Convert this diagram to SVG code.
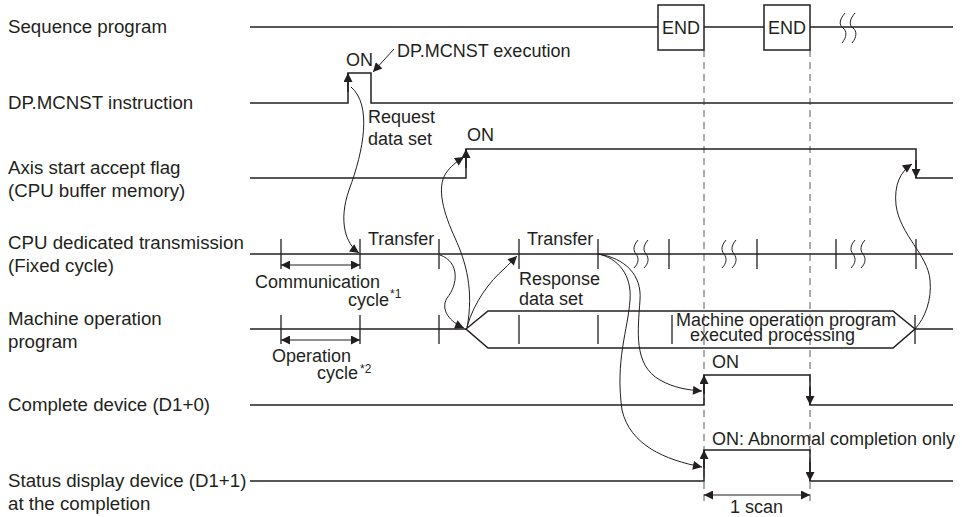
<svg xmlns="http://www.w3.org/2000/svg" width="962" height="517" viewBox="0 0 962 517">
<style>
text{font-family:"Liberation Sans",Arial,sans-serif;font-size:18px;fill:#231f20}
.lbl{font-size:18.7px}
.sup{font-size:12px}
.sig{fill:none;stroke:#231f20;stroke-width:1.5}
.tk{stroke:#231f20;stroke-width:1.3}
.brk{fill:none;stroke:#231f20;stroke-width:1}
.cv{fill:none;stroke:#231f20;stroke-width:1;marker-end:url(#ah)}
.ea{fill:none;stroke:#231f20;stroke-width:1.5;marker-end:url(#ah)}
.dim{fill:none;stroke:#231f20;stroke-width:1.2;marker-start:url(#ah);marker-end:url(#ah)}
.dash{stroke:#808080;stroke-width:1.3;stroke-dasharray:7 5}
.box{fill:#fff;stroke:#231f20;stroke-width:1.5}
</style>
<defs>
<marker id="ah" viewBox="0 0 10 10" refX="10" refY="5" markerWidth="11" markerHeight="9" markerUnits="userSpaceOnUse" orient="auto-start-reverse">
<path d="M0,0 L10,5 L0,10 z" fill="#231f20"/>
</marker>
</defs>
<rect width="962" height="517" fill="#fff"/>

<g id="dashes">
<line class="dash" x1="704" y1="50" x2="704" y2="505"/>
<line class="dash" x1="810" y1="50" x2="810" y2="505"/>
</g>

<g id="seq">
<text class="lbl" x="8" y="33">Sequence program</text>
<path class="sig" d="M250 27 H658 M704 27 H764 M810 27 H953"/>
<rect class="box" x="658" y="5" width="46" height="45"/>
<text x="681" y="34" text-anchor="middle">END</text>
<rect class="box" x="764" y="5" width="46" height="45"/>
<text x="787" y="34" text-anchor="middle">END</text>
<path class="brk" d="M845 13 C839 20 839 25 843 28 C847 31 847 37 842 43 M855 13 C849 20 849 25 853 28 C857 31 857 37 852 43"/>
</g>

<g id="dp">
<text class="lbl" x="8" y="109">DP.MCNST instruction</text>
<path class="sig" d="M250 103 H348 V73 H371 V103 H953"/>
<path class="ea" d="M348 92 V73"/>
<text x="346" y="66">ON</text>
<text x="397" y="57">DP.MCNST execution</text>
<text x="368" y="123">Request</text>
<text x="368" y="145">data set</text>
</g>

<g id="axis">
<text class="lbl" x="8" y="174">Axis start accept flag</text>
<text class="lbl" x="8" y="197">(CPU buffer memory)</text>
<path class="sig" d="M250 178 H466 V149 H916 V178 H953"/>
<path class="ea" d="M466 168 V149"/>
<path class="ea" d="M916 160 V178"/>
<text x="467" y="141">ON</text>
</g>

<g id="cpu">
<text class="lbl" x="8" y="249">CPU dedicated transmission</text>
<text class="lbl" x="8" y="272">(Fixed cycle)</text>
<path class="sig" d="M250 254 H953"/>
<path class="tk" d="M281 239 V269 M360 239 V269 M439 239 V269 M519 239 V269 M598 239 V269 M669 239 V269 M757 239 V269 M836 239 V269 M916 239 V269"/>
<path class="brk" d="M638 240 C633 246 633 250 636 254 C639 258 639 263 634 268 M648 240 C643 246 643 250 646 254 C649 258 649 263 644 268 M726 240 C721 246 721 250 724 254 C727 258 727 263 722 268 M736 240 C731 246 731 250 734 254 C737 258 737 263 732 268 M855 240 C850 246 850 250 853 254 C856 258 856 263 851 268 M865 240 C860 246 860 250 863 254 C866 258 866 263 861 268"/>
<text x="368" y="245">Transfer</text>
<text x="527" y="245">Transfer</text>
<path class="dim" d="M281 265 H360"/>
<text x="255" y="288">Communication</text>
<text x="348" y="306">cycle</text>
<text class="sup" x="390" y="298">*1</text>
<text x="519" y="285">Response</text>
<text x="519" y="305">data set</text>
</g>

<g id="machine">
<text class="lbl" x="8" y="325">Machine operation</text>
<text class="lbl" x="8" y="348">program</text>
<path class="sig" d="M250 329 H466 M915 329 H953"/>
<path class="sig" d="M466 329 L488 311 H893 L915 329 L893 348 H488 Z"/>
<path class="tk" d="M281 315 V344 M360 315 V344 M439 315 V344 M519 315 V344 M598 315 V344 M672 315 V344 M915 315 V344"/>
<text x="676" y="326">Machine operation program</text>
<text x="690" y="341">executed processing</text>
<path class="dim" d="M281 340 H360"/>
<text x="272" y="362">Operation</text>
<text x="317" y="379">cycle</text>
<text class="sup" x="360" y="373">*2</text>
</g>

<g id="complete">
<text class="lbl" x="8" y="411">Complete device (D1+0)</text>
<path class="sig" d="M250 405 H704 V375 H810 V405 H953"/>
<path class="ea" d="M704 394 V375"/>
<path class="ea" d="M810 387 V405"/>
<text x="712" y="368">ON</text>
</g>

<g id="status">
<text class="lbl" x="8" y="487">Status display device (D1+1)</text>
<text class="lbl" x="8" y="510">at the completion</text>
<path class="sig" d="M250 481 H704 V450 H810 V481 H953"/>
<path class="ea" d="M704 469 V450"/>
<path class="ea" d="M810 462 V481"/>
<text x="712" y="445">ON: Abnormal completion only</text>
<path class="dim" d="M704 495 H810"/>
<text x="730" y="513">1 scan</text>
</g>

<g id="connectors">
<path class="cv" d="M394 49 L373 72"/>
<path class="cv" d="M351 87 C372 105 364 150 349 190 C338 222 346 244 359 253"/>
<path class="cv" d="M440 255 C460 262 458 285 447 298 C440 310 450 322 464 328"/>
<path class="cv" d="M467 328 C474 290 466 262 455 238 C444 214 436 188 446 173 C451 166 456 162 464 157"/>
<path class="cv" d="M467 327 C474 302 490 281 504 269 C509 264 513 260 517 256"/>
<path class="cv" d="M598 254 C625 258 642 275 640 300 C638 330 633 365 660 380 C674 388 688 390 702 391"/>
<path class="cv" d="M598 254 C618 258 632 275 630 300 C628 330 615 360 622 410 C630 445 665 460 702 467"/>
<path class="cv" d="M915 329 C925 318 932 300 930 280 C928 255 900 235 896 205 C894 185 900 172 912 164"/>
</g>
</svg>
